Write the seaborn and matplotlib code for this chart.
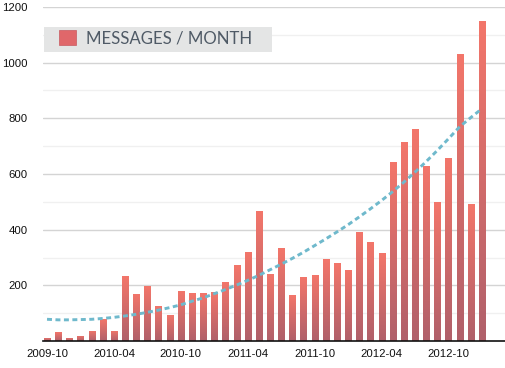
import numpy as np
import pandas as pd
import matplotlib
matplotlib.use("Agg")
import matplotlib.pyplot as plt
import seaborn as sns
from matplotlib.patches import Patch, Rectangle
from matplotlib.colors import to_rgba

# ---- data ----
months = [f"{y}-{m:02d}" for y, m in
          [(2009, 10), (2009, 11), (2009, 12)] +
          [(y, m) for y in (2010, 2011, 2012) for m in range(1, 13)] +
          [(2013, 1)]]
messages = [11, 32, 11, 18, 36, 78, 36, 233, 169, 197,
            126, 95, 180, 172, 172, 176, 212, 273, 320, 467,
            241, 334, 165, 230, 237, 294, 280, 255, 391, 355,
            316, 643, 715, 761, 628, 499, 657, 1031, 492, 1149]
trend = [78, 76, 76, 77, 78, 81, 85, 90, 96, 103,
         111, 120, 130, 143, 155, 170, 185, 201, 218, 236,
         256, 276, 297, 319, 343, 367, 392, 418, 446, 475,
         505, 537, 571, 607, 645, 685, 727, 770, 803, 835]
tick_labels = ["2009-10", "2010-04", "2010-10", "2011-04", "2011-10", "2012-04", "2012-10"]
y_ticks = [200, 400, 600, 800, 1000, 1200]

df = pd.DataFrame({"month": months, "messages": messages})

sns.set_theme(style="white")
plt.rcParams["font.family"] = ["Liberation Sans", "DejaVu Sans"]

W, H = 505, 368
fig = plt.figure(figsize=(W / 100, H / 100), dpi=100)
ax = fig.add_axes([43 / W, (H - 341) / H, 1 - 43 / W, (341 - 7) / H])

sns.barplot(data=df, x="month", y="messages", ax=ax, width=0.55,
            color="#e8706a", saturation=1)

top_c = np.array(to_rgba("#f3766a"))
bot_c = np.array(to_rgba("#b0606a"))
grad = np.linspace(0, 1, 128)[:, None, None]
img = bot_c * (1 - grad) + top_c * grad
for p in list(ax.patches):
    x, w, h = p.get_x(), p.get_width(), p.get_height()
    im = ax.imshow(img, extent=[x, x + w, 0, h], origin="lower",
                   aspect="auto", zorder=2, interpolation="bilinear")
    im.set_clip_path(p)
    p.set_facecolor("none")
    p.set_edgecolor("none")

x_pos = np.arange(len(months))
sns.lineplot(x=x_pos, y=trend, ax=ax, color="#6fb9cc", linewidth=2.1,
             dashes=False, zorder=3)
ax.lines[-1].set_dashes((1.7, 1.2))

ax.set_xlim(-0.36, 41.06)
ax.set_ylim(0, 1200)
ax.set_yticks(y_ticks)
ax.set_yticklabels([str(v) for v in y_ticks])
ax.set_yticks(np.arange(100, 1200, 200), minor=True)
ax.set_xticks([months.index(t) for t in tick_labels])
ax.set_xticklabels(tick_labels)
ax.set_xlabel("")
ax.set_ylabel("")

ax.grid(axis="y", which="major", color="#d4d4d4", linewidth=1.0, zorder=0)
ax.grid(axis="y", which="minor", color="#f0f0f0", linewidth=1.0, zorder=0)
ax.grid(axis="x", visible=False)
ax.set_axisbelow(True)

for s in ["top", "right", "left"]:
    ax.spines[s].set_visible(False)
ax.spines["bottom"].set_color("#111111")
ax.spines["bottom"].set_linewidth(1.2)

ax.tick_params(axis="y", which="both", length=0, pad=11, labelsize=8.2, labelcolor="#111111")
ax.tick_params(axis="x", length=0, pad=6, labelsize=8.2, labelcolor="#111111")

# legend background box (pixel-placed)
box = Rectangle((44 / W, 1 - 52 / H), (272 - 44) / W, 25 / H,
                transform=fig.transFigure, facecolor="#e4e5e5",
                edgecolor="none", zorder=4, clip_on=False)
ax.add_artist(box)

handle = Patch(facecolor="#e0676a", edgecolor="#c85a60", linewidth=0.5)
leg = ax.legend([handle], ["MESSAGES / MONTH"], loc="upper left",
                bbox_to_anchor=(59 / W, 1 - 30 / H), bbox_transform=fig.transFigure,
                frameon=False,
                handlelength=1.0, handleheight=1.0, handletextpad=0.6,
                borderpad=0.0, borderaxespad=0,
                prop={"family": "Lato", "size": 12.1})
leg.set_zorder(5)
for t in leg.get_texts():
    t.set_color("#4f5a66")

fig.savefig("out.png", dpi=100)
